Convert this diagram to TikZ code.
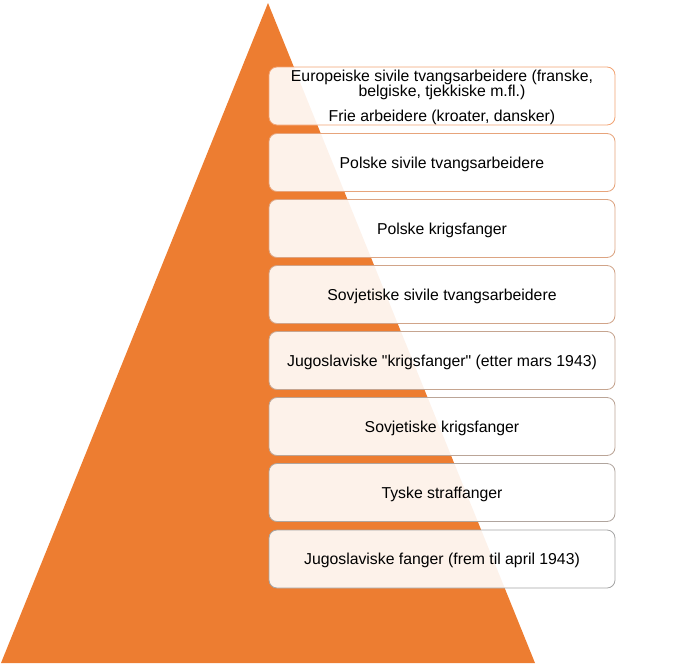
\documentclass[tikz,border=0pt]{standalone}
\usepackage{fontspec}
\setmainfont{Liberation Sans}[Ligatures=TeXOff]
\usetikzlibrary{positioning}
\definecolor{pyramid}{HTML}{ED7D31}
\definecolor{edgetop}{HTML}{F2A474}
\definecolor{edgebot}{HTML}{A5A5A5}

\begin{document}
\begin{tikzpicture}[x=1pt,y=-1pt]
\useasboundingbox (0,0) rectangle (680,664);
\fill[pyramid] (268,3) -- (535,663) -- (1,663) -- cycle;

% the list, top to bottom
\begin{scope}[every node/.style={shape=rectangle, rounded corners=8pt,
    draw, align=center, fill=white, fill opacity=0.9, text opacity=1,
    line width=0.8pt, minimum width=346pt, minimum height=58pt, inner sep=0pt,
    text depth=0pt, font=\fontsize{15.8}{15.5}\selectfont}]
    \node[draw=edgetop] (a) at (442,96) {Europeiske sivile tvangsarbeidere (franske,\\ belgiske, tjekkiske m.fl.)\\[9.5pt] Frie arbeidere (kroater, dansker)};
    \node[draw=edgetop!86!edgebot] (b) at (442,162.5) {Polske sivile tvangsarbeidere};
    \node[draw=edgetop!71!edgebot] (c) at (442,228.5) {Polske krigsfanger};
    \node[draw=edgetop!57!edgebot] (d) at (442,294.5) {Sovjetiske sivile tvangsarbeidere};
    \node[draw=edgetop!43!edgebot] (e) at (442,360.5) {Jugoslaviske "krigsfanger" (etter mars 1943)};
    \node[draw=edgetop!29!edgebot] (f) at (442,426.5) {Sovjetiske krigsfanger};
    \node[draw=edgetop!14!edgebot] (g) at (442,492.5) {Tyske straffanger};
    \node[draw=edgebot] (h) at (442,559) {Jugoslaviske fanger (frem til april 1943)};
\end{scope}
\end{tikzpicture}
\end{document}
